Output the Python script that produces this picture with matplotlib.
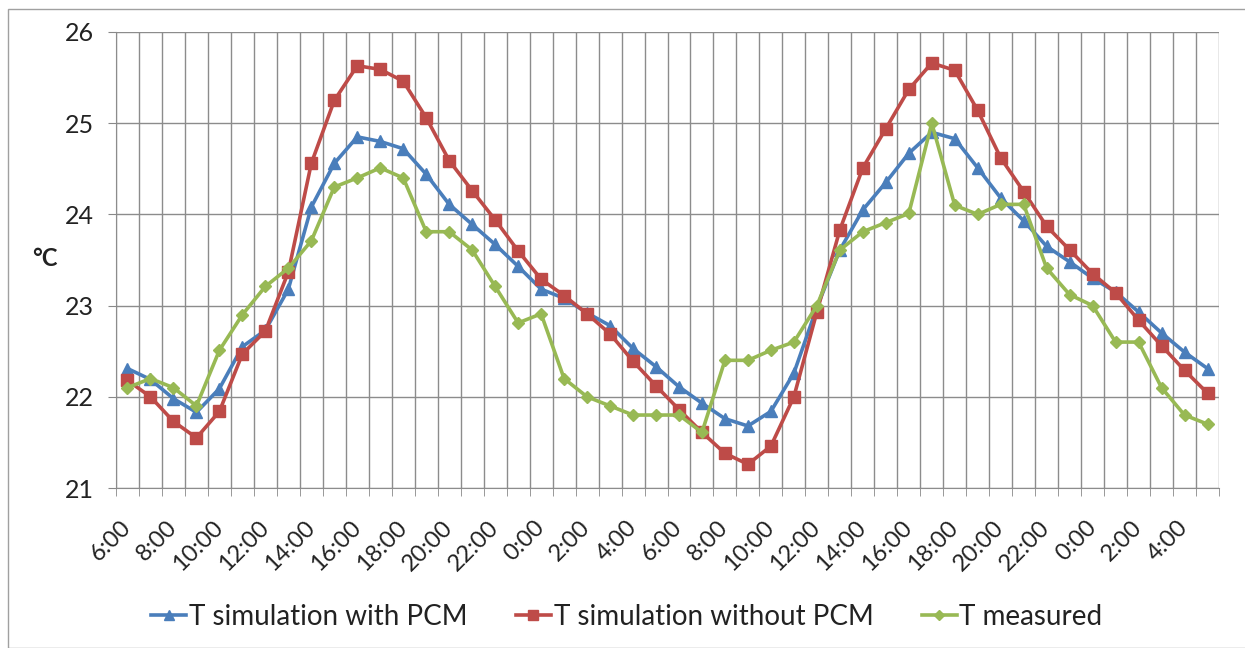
import matplotlib
matplotlib.use("Agg")
import matplotlib.pyplot as plt
from matplotlib.patches import Rectangle

hours = [f"{(6 + i) % 24}:00" for i in range(48)]

t_with_pcm = [22.31, 22.19, 21.98, 21.83, 22.09, 22.55, 22.73, 23.18, 24.08, 24.56,
              24.85, 24.80, 24.72, 24.44, 24.11, 23.89, 23.67, 23.43, 23.18, 23.08,
              22.92, 22.78, 22.53, 22.33, 22.11, 21.93, 21.76, 21.68, 21.84, 22.26,
              22.98, 23.61, 24.05, 24.35, 24.67, 24.90, 24.83, 24.51, 24.18, 23.93,
              23.65, 23.48, 23.30, 23.15, 22.93, 22.70, 22.49, 22.31]
t_without_pcm = [22.18, 22.00, 21.73, 21.55, 21.84, 22.47, 22.72, 23.37, 24.56, 25.25,
                 25.63, 25.59, 25.46, 25.06, 24.59, 24.26, 23.94, 23.60, 23.29, 23.11,
                 22.91, 22.69, 22.39, 22.12, 21.86, 21.61, 21.38, 21.26, 21.46, 22.00,
                 22.93, 23.83, 24.51, 24.94, 25.37, 25.66, 25.58, 25.14, 24.62, 24.25,
                 23.87, 23.61, 23.35, 23.14, 22.84, 22.56, 22.29, 22.04]
t_measured = [22.10, 22.20, 22.10, 21.90, 22.51, 22.90, 23.21, 23.41, 23.71, 24.30,
              24.40, 24.51, 24.40, 23.81, 23.81, 23.61, 23.21, 22.81, 22.91, 22.20,
              22.00, 21.90, 21.80, 21.80, 21.80, 21.61, 22.40, 22.40, 22.51, 22.60,
              23.00, 23.61, 23.81, 23.91, 24.01, 25.00, 24.10, 24.00, 24.11, 24.11,
              23.41, 23.12, 23.00, 22.60, 22.60, 22.10, 21.80, 21.70]
y_ticks = [21, 22, 23, 24, 25, 26]

font = "Lato"
plt.rcParams['font.family'] = [font, 'DejaVu Sans']

fig = plt.figure(figsize=(12.45, 6.48), dpi=100)
fig.patches.append(Rectangle((8 / 1245, 0), 1.0, 1 - 9 / 648, transform=fig.transFigure,
                             fill=False, edgecolor="#a0a0a0", linewidth=1.0))
ax = fig.add_axes([116 / 1245, 1 - 488 / 648, (1219 - 116) / 1245, (488 - 32) / 648])

n = len(hours)
x = list(range(n))
ax.plot(x, t_with_pcm, color="#4A7EBB", lw=2.6, marker="^", ms=9,
        label="T simulation with PCM", zorder=3)
ax.plot(x, t_without_pcm, color="#BE4B48", lw=2.6, marker="s", ms=8.5,
        label="T simulation without PCM", zorder=3)
ax.plot(x, t_measured, color="#98B954", lw=2.6, marker="D", ms=6,
        label="T measured", zorder=3)

ax.set_xlim(-0.5, n - 0.5)
ax.set_ylim(21, 26)
ax.set_yticks(y_ticks)
ax.set_yticklabels([str(v) for v in y_ticks], fontsize=18, color="#222222")
ax.tick_params(axis="y", length=6, color="#888888", pad=10)

# vertical gridlines at category boundaries
bounds = [i - 0.5 for i in range(n + 1)]
ax.set_xticks(bounds, minor=True)
ax.set_xticks(x[::2])
ax.set_xticklabels(hours[::2], rotation=45, ha="right", va="center",
                   rotation_mode="anchor", fontsize=17, color="#222222")
ax.tick_params(axis="x", which="major", length=0, pad=26)
ax.tick_params(axis="x", which="minor", length=6, color="#888888")
ax.grid(True, which="minor", axis="x", color="#8c8c8c", lw=1.0)
ax.grid(True, which="major", axis="y", color="#8c8c8c", lw=1.0)
ax.set_axisbelow(True)
for s in ["top", "right"]:
    ax.spines[s].set_visible(False)
ax.spines["left"].set_color("#8c8c8c")
ax.spines["bottom"].set_color("#8c8c8c")

fig.text(45 / 1245, 1 - 258 / 648, "°C", fontsize=17, fontweight="bold",
         ha="center", va="center", color="#222222")

leg = fig.legend(loc="center", bbox_to_anchor=(627 / 1245, 1 - 617 / 648), ncol=3,
                 frameon=False, fontsize=20, handlelength=1.25, columnspacing=1.75,
                 handletextpad=0.1, markerscale=0.8)
for t in leg.get_texts():
    t.set_color("#222222")

fig.savefig("out.png", dpi=100)
